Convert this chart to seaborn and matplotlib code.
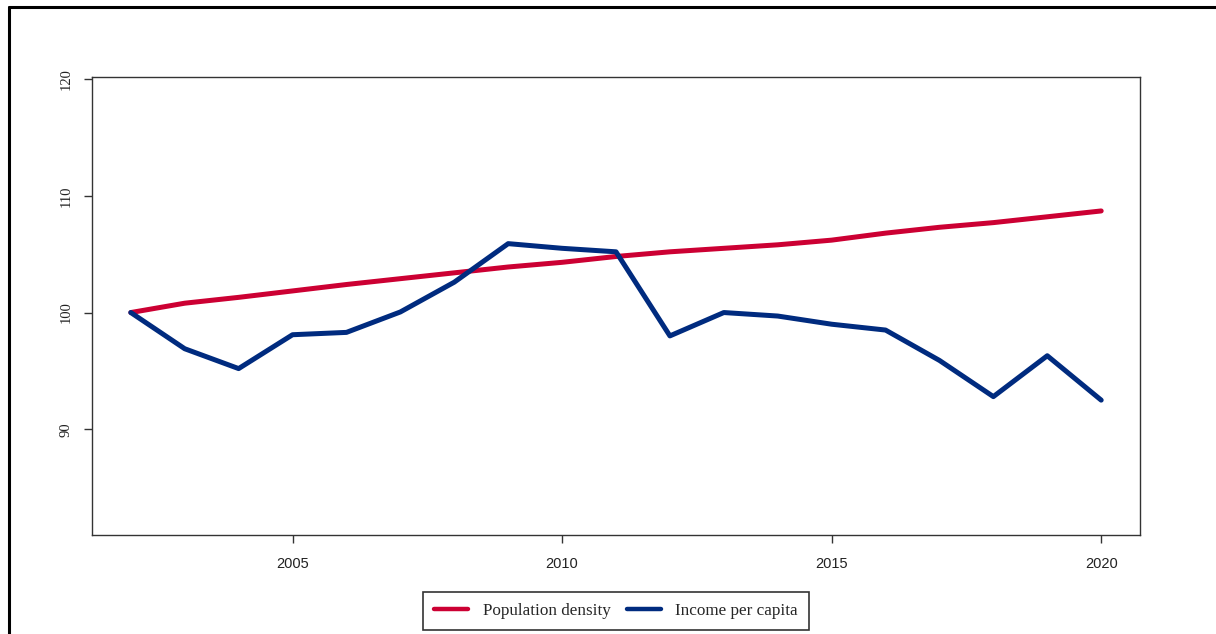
import matplotlib
matplotlib.use("Agg")
import matplotlib.pyplot as plt
import matplotlib.lines as mlines
import seaborn as sns
import pandas as pd

# datos
anios = list(range(2002, 2021))
densidad = [100.0, 100.8, 101.3, 101.85, 102.4, 102.9, 103.4, 103.9, 104.3, 104.8,
            105.2, 105.5, 105.8, 106.2, 106.8, 107.3, 107.7, 108.2, 108.7]
ingreso = [100.0, 96.9, 95.2, 98.1, 98.3, 100.05, 102.6, 105.9, 105.5, 105.2,
           98.0, 100.0, 99.7, 99.0, 98.5, 95.9, 92.8, 96.3, 92.5]
series = ["Population density", "Income per capita"]
colores = {"Population density": "#CC0033", "Income per capita": "#002B7F"}
y_ticks = [90, 100, 110, 120]
x_ticks = [2005, 2010, 2015, 2020]

df = pd.DataFrame({
    "anio": anios * 2,
    "valor": densidad + ingreso,
    "serie": [series[0]] * len(anios) + [series[1]] * len(anios),
})

sns.set_theme(style="white")
plt.rcParams['font.family'] = ['Liberation Serif', 'DejaVu Serif']

fig = plt.figure(figsize=(12.16, 6.34), dpi=100)
ax = fig.add_axes([92 / 1216, 1 - 535 / 634, (1140 - 92) / 1216, (535 - 77) / 634])

sns.lineplot(data=df, x="anio", y="valor", hue="serie", hue_order=series,
             palette=colores, linewidth=3.6, ax=ax, legend=False)

ax.set_xlim(2001.28, 2020.72)
ax.set_ylim(80.95, 120.17)
ax.set_xticks(x_ticks)
ax.set_yticks(y_ticks)
ax.set_xlabel("")
ax.set_ylabel("")

for s in ax.spines.values():
    s.set_color("#333333")
    s.set_linewidth(1.0)

ax.tick_params(axis="both", direction="out", length=6, width=1.0, color="#333333",
               bottom=True, left=True)
ax.tick_params(axis="x", pad=10)
ax.tick_params(axis="y", pad=8)
for lab in ax.get_xticklabels():
    lab.set_family(['Liberation Sans', 'DejaVu Sans'])
    lab.set_fontsize(10.5)
    lab.set_color("#222222")
for lab in ax.get_yticklabels():
    lab.set_rotation(90)
    lab.set_va("center")
    lab.set_fontsize(10.5)
    lab.set_color("#222222")

# leyenda abajo
handles = [mlines.Line2D([], [], color=colores[s], linewidth=3.2) for s in series]
leg = fig.legend(handles, series, loc="upper center", bbox_to_anchor=(616 / 1216, 1 - 592 / 634),
                 ncol=2, frameon=True, fancybox=False, fontsize=12.3, borderaxespad=0,
                 handlelength=2.0, handletextpad=0.85, columnspacing=0.95, borderpad=0.65)
leg.get_frame().set_edgecolor("black")
leg.get_frame().set_linewidth(1.2)

# marco exterior
fig.add_artist(mlines.Line2D([9 / 1216, 1], [1 - 7 / 634, 1 - 7 / 634], color="black", linewidth=2.2))
fig.add_artist(mlines.Line2D([9 / 1216, 9 / 1216], [0, 1 - 7 / 634], color="black", linewidth=2.2))

fig.savefig("out.png", dpi=100)
plt.close()
